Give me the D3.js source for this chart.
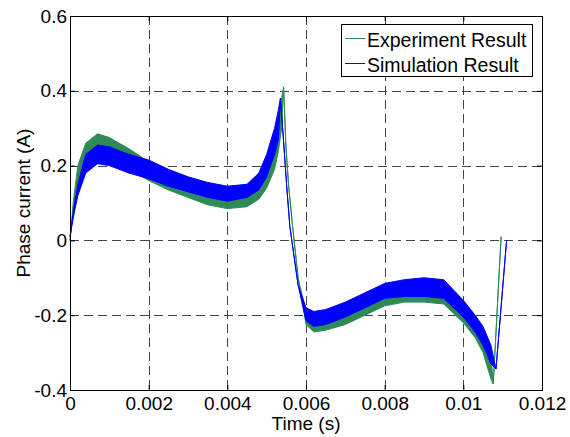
<!DOCTYPE html>
<html>
<head>
<meta charset="utf-8">
<script src="https://cdn.jsdelivr.net/npm/d3@7"></script>
<style>
  body { margin: 0; background: #fff; }
  text { font-family: "Liberation Sans", Arial, sans-serif; }
</style>
</head>
<body>
<svg id="chart"></svg>
<script>
// ticks
var xTicks = [0, 0.002, 0.004, 0.006, 0.008, 0.01, 0.012];
var xTickLabels = ["0", "0.002", "0.004", "0.006", "0.008", "0.01", "0.012"];
var yTicks = [-0.4, -0.2, 0, 0.2, 0.4, 0.6];
var yTickLabels = ["-0.4", "-0.2", "0", "0.2", "0.4", "0.6"];

// experiment result: ripple band (low / high)
var expTime = [0, 0.00008, 0.0002, 0.0004, 0.0007, 0.001, 0.0015, 0.002, 0.0025, 0.003, 0.0035, 0.004, 0.0045, 0.0048, 0.005, 0.0052, 0.0053, 0.00538, 0.00543,
  0.00549, 0.00556, 0.00566, 0.0058, 0.006, 0.0062, 0.0065, 0.007, 0.0075, 0.008, 0.0085, 0.009, 0.0095, 0.01, 0.0103, 0.0105, 0.0107, 0.01076, 0.01096];
var expLow = [0, 0.08, 0.15, 0.2, 0.225, 0.215, 0.19, 0.16, 0.135, 0.115, 0.095, 0.085, 0.09, 0.11, 0.14, 0.19, 0.24, 0.3, 0.41,
  0.25, 0.144, 0.037, -0.1, -0.225, -0.245, -0.24, -0.225, -0.2, -0.175, -0.165, -0.165, -0.17, -0.22, -0.26, -0.3, -0.37, -0.384, 0.01];
var expHigh = [0, 0.1, 0.2, 0.26, 0.285, 0.275, 0.245, 0.21, 0.185, 0.16, 0.14, 0.13, 0.135, 0.16, 0.2, 0.27, 0.32, 0.38, 0.41,
  0.25, 0.144, 0.037, -0.1, -0.19, -0.205, -0.2, -0.18, -0.16, -0.135, -0.125, -0.125, -0.13, -0.175, -0.21, -0.24, -0.3, -0.384, 0.01];

// simulation result
var simTime = [0, 0.0001, 0.0002, 0.0004, 0.0007, 0.001, 0.0015, 0.002, 0.0025, 0.003, 0.0035, 0.004, 0.0045, 0.0048, 0.005, 0.0052, 0.0053, 0.00535,
  0.00544, 0.00551, 0.00559, 0.0058, 0.006, 0.0062, 0.0065, 0.007, 0.0075, 0.008, 0.0085, 0.009, 0.0095, 0.01, 0.0103, 0.0105, 0.0107, 0.01083, 0.0111];
var simLow = [0.01, 0.07, 0.12, 0.18, 0.205, 0.2, 0.18, 0.165, 0.145, 0.13, 0.115, 0.105, 0.115, 0.135, 0.17, 0.23, 0.27, 0.38,
  0.25, 0.144, 0.037, -0.12, -0.215, -0.23, -0.225, -0.205, -0.18, -0.155, -0.15, -0.15, -0.155, -0.205, -0.245, -0.28, -0.33, -0.344, 0];
var simHigh = [0.01, 0.09, 0.15, 0.23, 0.255, 0.25, 0.23, 0.215, 0.19, 0.17, 0.155, 0.145, 0.15, 0.18, 0.23, 0.3, 0.35, 0.38,
  0.25, 0.144, 0.037, -0.12, -0.18, -0.19, -0.185, -0.165, -0.14, -0.115, -0.105, -0.1, -0.105, -0.16, -0.2, -0.23, -0.28, -0.344, 0];

var seriesNames = ["Experiment Result", "Simulation Result"];
var seriesColors = ["#2e8b57", "#0000ff"];

var W = 570, H = 437;
var margin = {top: 16, right: 28, bottom: 47, left: 70};
var width = W - margin.left - margin.right,
    height = H - margin.top - margin.bottom;

var svg = d3.select("#chart").attr("width", W).attr("height", H);
svg.append("rect").attr("width", W).attr("height", H).attr("fill", "#fff");

var g = svg.append("g").attr("transform", "translate(" + margin.left + "," + margin.top + ")");

var x = d3.scaleLinear().domain([0, 0.012]).range([0, width]);
var y = d3.scaleLinear().domain([-0.4, 0.6]).range([height, 0]);

// grid
g.append("g").selectAll("line")
  .data(xTicks.slice(1, -1))
  .enter().append("line")
    .attr("x1", function(d) { return Math.round(x(d)) + 0.5; })
    .attr("x2", function(d) { return Math.round(x(d)) + 0.5; })
    .attr("y1", 0).attr("y2", height)
    .attr("stroke", "#444").attr("stroke-dasharray", "9,5");
g.append("g").selectAll("line")
  .data(yTicks.slice(1, -1))
  .enter().append("line")
    .attr("y1", function(d) { return Math.round(y(d)) + 0.5; })
    .attr("y2", function(d) { return Math.round(y(d)) + 0.5; })
    .attr("x1", 0).attr("x2", width)
    .attr("stroke", "#444").attr("stroke-dasharray", "9,5");

// data bands
function band(time, lo, hi) {
  return time.map(function(t, i) { return {t: t, lo: lo[i], hi: hi[i]}; });
}
var area = d3.area()
  .x(function(d) { return x(d.t); })
  .y0(function(d) { return y(d.lo); })
  .y1(function(d) { return y(d.hi); });

var series = [band(expTime, expLow, expHigh), band(simTime, simLow, simHigh)];
g.selectAll(".serie")
  .data(series)
  .enter().append("path")
    .attr("class", "serie")
    .attr("d", area)
    .attr("fill", function(d, i) { return seriesColors[i]; })
    .attr("stroke", function(d, i) { return seriesColors[i]; })
    .attr("stroke-width", 1)
    .attr("stroke-linejoin", "round");

// axes
var fmtX = function(d) { return xTickLabels[xTicks.indexOf(d)]; };
var fmtY = function(d) { return yTickLabels[yTicks.indexOf(d)]; };

g.append("g")
  .attr("transform", "translate(0," + height + ")")
  .call(d3.axisBottom(x).tickValues(xTicks).tickFormat(fmtX).tickSize(-5).tickPadding(7));
g.append("g")
  .call(d3.axisLeft(y).tickValues(yTicks).tickFormat(fmtY).tickSize(-5).tickPadding(3));
g.append("g")
  .call(d3.axisTop(x).tickValues(xTicks).tickFormat("").tickSize(-5));
g.append("g")
  .attr("transform", "translate(" + width + ",0)")
  .call(d3.axisRight(y).tickValues(yTicks).tickFormat("").tickSize(-5));

g.selectAll(".domain").remove();
g.selectAll(".tick line").attr("stroke", "#000");
g.selectAll(".tick text").attr("fill", "#000").style("font-size", "19px");

g.append("rect")
  .attr("x", 0.5).attr("y", 0.5)
  .attr("width", width).attr("height", height)
  .attr("fill", "none").attr("stroke", "#000");

// axis titles
svg.append("text")
  .attr("x", margin.left + width / 2).attr("y", 430)
  .attr("text-anchor", "middle").style("font-size", "19px")
  .text("Time (s)");
svg.append("text")
  .attr("transform", "translate(30," + (margin.top + height / 2) + ") rotate(-90)")
  .attr("text-anchor", "middle").style("font-size", "19px")
  .text("Phase current (A)");

// legend
var legend = svg.append("g").attr("transform", "translate(341,24)");
legend.append("rect")
  .attr("x", 0.5).attr("y", 0.5).attr("width", 191).attr("height", 52)
  .attr("fill", "#fff").attr("stroke", "#000");
var item = legend.selectAll(".legend")
  .data(seriesNames)
  .enter().append("g")
    .attr("class", "legend")
    .attr("transform", function(d, i) { return "translate(0," + (14 + i * 25) + ")"; });
item.append("line")
  .attr("x1", 4).attr("x2", 24).attr("y1", 0.5).attr("y2", 0.5)
  .attr("stroke", function(d, i) { return seriesColors[i]; });
item.append("text")
  .attr("x", 26).attr("y", 9)
  .style("font-size", "19.5px")
  .text(function(d) { return d; });
</script>
</body>
</html>
